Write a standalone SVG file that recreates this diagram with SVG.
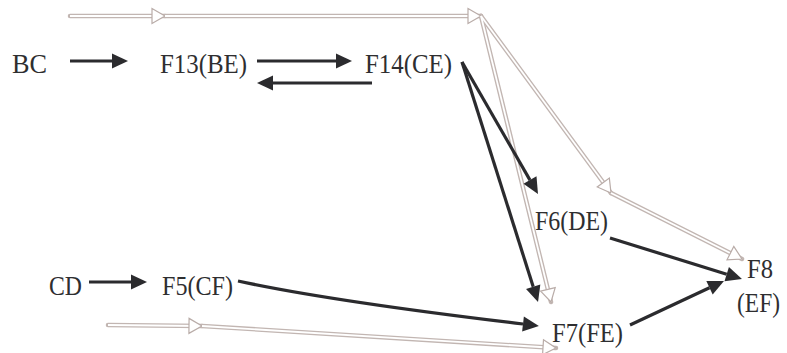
<svg xmlns="http://www.w3.org/2000/svg" width="787" height="353" viewBox="0 0 787 353">
<style>
  text { font-family: "Liberation Serif", "Times New Roman", serif; font-size: 28px; fill: #2e2e30; }
  .g-out { fill: none; stroke: #c2b6b2; stroke-width: 4.5; stroke-linecap: round; }
  .g-in { fill: none; stroke: #ffffff; stroke-width: 1.8; marker-end: url(#hollow); }
  .blk { fill: none; stroke: #2b2b2e; stroke-width: 3.2; marker-end: url(#solid); }
</style>
<defs>
  <marker id="solid" markerUnits="userSpaceOnUse" markerWidth="18" markerHeight="16" refX="0" refY="7.5" orient="auto" overflow="visible">
    <path d="M0,0 L16,7.5 L0,15 z" fill="#2b2b2e"/>
  </marker>
  <marker id="hollow" markerUnits="userSpaceOnUse" markerWidth="16" markerHeight="17" refX="13" refY="7.5" orient="auto" overflow="visible">
    <path d="M0,0 L13,7.5 L0,15 z" fill="#ffffff" stroke="#b9aca8" stroke-width="1.2" stroke-linejoin="miter"/>
  </marker>
</defs>

<g id="nodes">
  <g id="BC"><text x="12" y="73" textLength="35" lengthAdjust="spacingAndGlyphs">BC</text></g>
  <g id="F13"><text x="160" y="73" textLength="87" lengthAdjust="spacingAndGlyphs">F13(BE)</text></g>
  <g id="F14"><text x="365" y="73" textLength="87" lengthAdjust="spacingAndGlyphs">F14(CE)</text></g>
  <g id="F6"><text x="535" y="230" textLength="73" lengthAdjust="spacingAndGlyphs">F6(DE)</text></g>
  <g id="F8"><text x="747" y="278" textLength="26" lengthAdjust="spacingAndGlyphs">F8</text><text x="737" y="312" font-size="26" textLength="43" lengthAdjust="spacingAndGlyphs">(EF)</text></g>
  <g id="CD"><text x="49" y="295" textLength="33" lengthAdjust="spacingAndGlyphs">CD</text></g>
  <g id="F5"><text x="162" y="295" textLength="71" lengthAdjust="spacingAndGlyphs">F5(CF)</text></g>
  <g id="F7"><text x="552" y="342" textLength="71" lengthAdjust="spacingAndGlyphs">F7(FE)</text></g>
</g>

<g id="connectors">
  <g id="gray-outer">
    <path class="g-out" d="M70,16 L165,16"/>
    <path class="g-out" d="M165,16 L481,16"/>
    <path class="g-out" d="M481,16 L611,193"/>
    <path class="g-out" d="M611,193 L742,259"/>
    <path class="g-out" d="M481,16 L551,302"/>
    <path class="g-out" d="M108,325 L202,326"/>
    <path class="g-out" d="M202,326 L556,348"/>
  </g>
  <g id="gray-inner">
    <path class="g-in" d="M70,16 L165,16"/>
    <path class="g-in" d="M165,16 L481,16"/>
    <path class="g-in" d="M481,16 L611,193"/>
    <path class="g-in" d="M611,193 L742,259"/>
    <path class="g-in" d="M481,16 L551,302"/>
    <path class="g-in" d="M108,325 L202,326"/>
    <path class="g-in" d="M202,326 L556,348"/>
  </g>
  <g id="black">
    <path class="blk" d="M70,61 L112,61"/>
    <path class="blk" d="M257,61 L336,61"/>
    <path class="blk" d="M372,83 L273,83"/>
    <path class="blk" d="M89,282 L131,282"/>
    <path class="blk" d="M462,62 L530,180.1"/>
    <path class="blk" d="M462,62 L533.2,286.7"/>
    <path class="blk" d="M238,281 Q330,301 523,324"/>
    <path class="blk" d="M610,238 L726.7,274.2"/>
    <path class="blk" d="M630,325 L709.5,287.8"/>
  </g>
</g>
</svg>
